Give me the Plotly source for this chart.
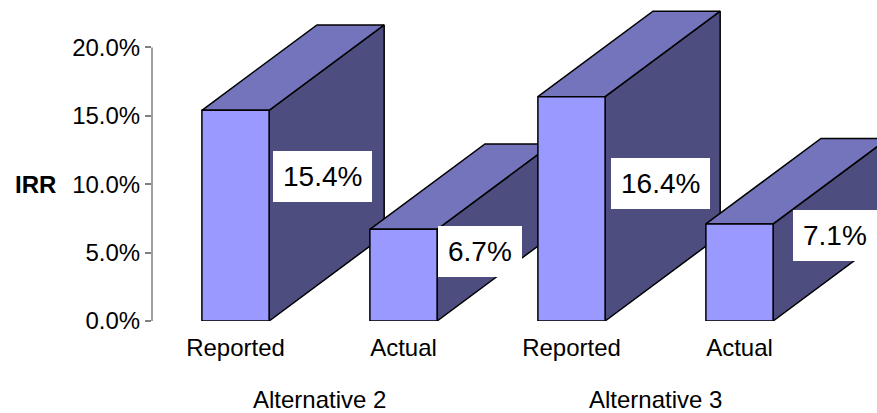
import plotly.graph_objects as go

# ---- data ----
categories = ["Reported", "Actual", "Reported", "Actual"]
groups = ["Alternative 2", "Alternative 3"]
irr_values = [15.4, 6.7, 16.4, 7.1]
value_labels = ["15.4%", "6.7%", "16.4%", "7.1%"]
y_ticks = [0, 5, 10, 15, 20]
y_tick_labels = ["0.0%", "5.0%", "10.0%", "15.0%", "20.0%"]

# ---- style / geometry ----
FONT = "Liberation Sans, Arial, sans-serif"
FRONT = "#9999FF"
TOP = "#7474BC"
SIDE = "#4D4D7F"
EDGE = "black"
BAR_W = 0.40          # width of the front face (category units)
DEPTH_X = 0.685       # 3-D depth offset in x (category units)
DEPTH_Y = 6.25        # 3-D depth offset in y (value units)
LABEL_DX = [0.516, 0.458, 0.531, 0.571]   # label centre offset from bar centre
LABEL_Y = [10.6, 5.05, 10.02, 6.25]       # label centre height (value units)

fig = go.Figure()

def face(xs, ys, color):
    fig.add_trace(go.Scatter(
        x=xs + [xs[0]], y=ys + [ys[0]], mode="lines", fill="toself",
        fillcolor=color, line=dict(color=EDGE, width=1.5),
        hoverinfo="skip", showlegend=False))

for i, v in enumerate(irr_values):
    x0, x1 = i - BAR_W / 2, i + BAR_W / 2
    # side face
    face([x1, x1 + DEPTH_X, x1 + DEPTH_X, x1],
         [0, DEPTH_Y, v + DEPTH_Y, v], SIDE)
    # top face
    face([x0, x1, x1 + DEPTH_X, x0 + DEPTH_X],
         [v, v, v + DEPTH_Y, v + DEPTH_Y], TOP)
    # front face
    face([x0, x1, x1, x0], [0, 0, v, v], FRONT)

annotations = []
for i, lab in enumerate(value_labels):
    annotations.append(dict(
        x=i + LABEL_DX[i], y=LABEL_Y[i], xref="x", yref="y", text=lab,
        showarrow=False, bgcolor="white", borderpad=10, borderwidth=0,
        font=dict(family=FONT, size=28, color="black"),
        xanchor="center", yanchor="middle"))

for g, name in enumerate(groups):
    annotations.append(dict(
        x=2 * g + 0.5, y=-0.243, xref="x", yref="paper", text=name,
        showarrow=False, font=dict(family=FONT, size=24, color="black"),
        xanchor="center", yanchor="middle"))

annotations.append(dict(
    x=-0.161, y=10, xref="paper", yref="y", text="<b>IRR</b>",
    showarrow=False, font=dict(family=FONT, size=24, color="black"),
    xanchor="center", yanchor="middle"))

fig.update_layout(
    width=877, height=413,
    margin=dict(l=152, r=0, t=0, b=92),
    paper_bgcolor="white", plot_bgcolor="white",
    showlegend=False,
    annotations=annotations,
    shapes=[dict(type="line", xref="paper", yref="y", x0=0, x1=0,
                 y0=0, y1=max(y_ticks), line=dict(color="#808080", width=1.5))],
    xaxis=dict(range=[-0.497, 3.8185], tickmode="array",
               tickvals=list(range(len(categories))), ticktext=categories,
               showgrid=False, zeroline=False, showline=False,
               ticks="outside", ticklen=5, tickcolor="rgba(0,0,0,0)",
               tickfont=dict(family=FONT, size=24, color="black")),
    yaxis=dict(range=[0, 23.47], tickmode="array", tickvals=y_ticks,
               ticktext=y_tick_labels, showgrid=False, zeroline=False,
               showline=False, ticks="outside", ticklen=6,
               tickcolor="#808080", tickwidth=1.5,
               tickfont=dict(family=FONT, size=24, color="black")),
)

fig.write_html("out.html")
